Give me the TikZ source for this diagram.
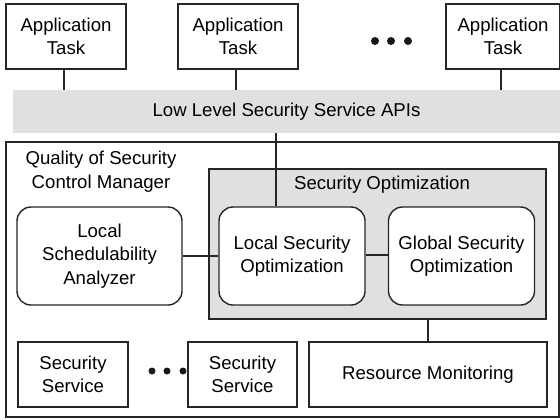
\documentclass[tikz,border=0pt]{standalone}
\usepackage{fontspec}
\setmainfont{Liberation Sans}
\usetikzlibrary{positioning,calc}

\begin{document}
\begin{tikzpicture}[x=0.5pt,y=-0.5pt,
  every node/.style={font=\fontsize{9.3}{11.7}\selectfont},
  box/.style={rectangle,draw=black!85,line width=0.7pt,fill=white,align=center,inner sep=0pt},
  rbox/.style={box,rounded corners=7pt,minimum width=73pt,minimum height=49pt},
  task/.style={box,minimum width=60pt,minimum height=32.5pt},
  shade/.style={rectangle,fill=black!12,inner sep=0pt},
  link/.style={draw=black!85,line width=0.7pt},
  dot/.style={circle,fill=black!90,inner sep=0pt,minimum size=4pt}]
\useasboundingbox (0,0) rectangle (560,419);

% application tasks
\node[task] (app1) at (66,36.5) {Application\\Task};
\node[task] (app2) at (238,36.5) {Application\\Task};
\node[task,minimum width=57pt] (app3) at (503,36.5) {Application\\Task};
\foreach \x [count=\i] in {375,391,408}
  \node[dot] (tdot\i) at (\x,41) {};

% API band
\node[shade,minimum width=273.5pt,minimum height=21.5pt] (api) at (286.5,111.5)
  {Low Level Security Service APIs};

% manager
\node[box,minimum width=276.5pt,minimum height=137.5pt] (qoscm) at (282.5,279.5) {};
\node[align=center] (qoscmtitle) at (101,171.5) {Quality of Security\\Control Manager};
\node[box,fill=black!12,minimum width=168.5pt,minimum height=75pt] (secopt) at (377.5,244) {};
\node (secopttitle) at (382,185) {Security Optimization};

\node[rbox,minimum width=82.5pt] (lsa) at (99.5,256) {Local\\Schedulability\\Analyzer};
\node[rbox] (lso) at (292,256) {Local Security\\Optimization};
\node[rbox] (gso) at (461.5,256) {Global Security\\Optimization};

\node[box,minimum width=55pt,minimum height=32.5pt] (ss1) at (73,374.5) {Security\\Service};
\node[box,minimum width=54.5pt,minimum height=32.5pt] (ss2) at (242.5,374.5) {Security\\Service};
\foreach \x [count=\i] in {152,167,183}
  \node[dot,minimum size=3.5pt] (bdot\i) at (\x,371) {};
\node[box,minimum width=119pt,minimum height=32.5pt] (rm) at (428,374.5) {Resource Monitoring};

% connectors
\foreach \t in {app1,app2,app3}
  \draw[link] ([xshift=-1pt]\t.south) -- ([xshift=-1pt]\t.south |- api.north);
\draw[link] ([xshift=-8pt]lso.north) -- ([xshift=-8pt]lso.north |- api.south);
\draw[link] (lsa.east) -- (lso.west);
\draw[link] ([yshift=0.5pt]lso.east) -- ([yshift=0.5pt]gso.west);
\draw[link] (rm.north) -- (rm.north |- secopt.south);
\end{tikzpicture}
\end{document}
